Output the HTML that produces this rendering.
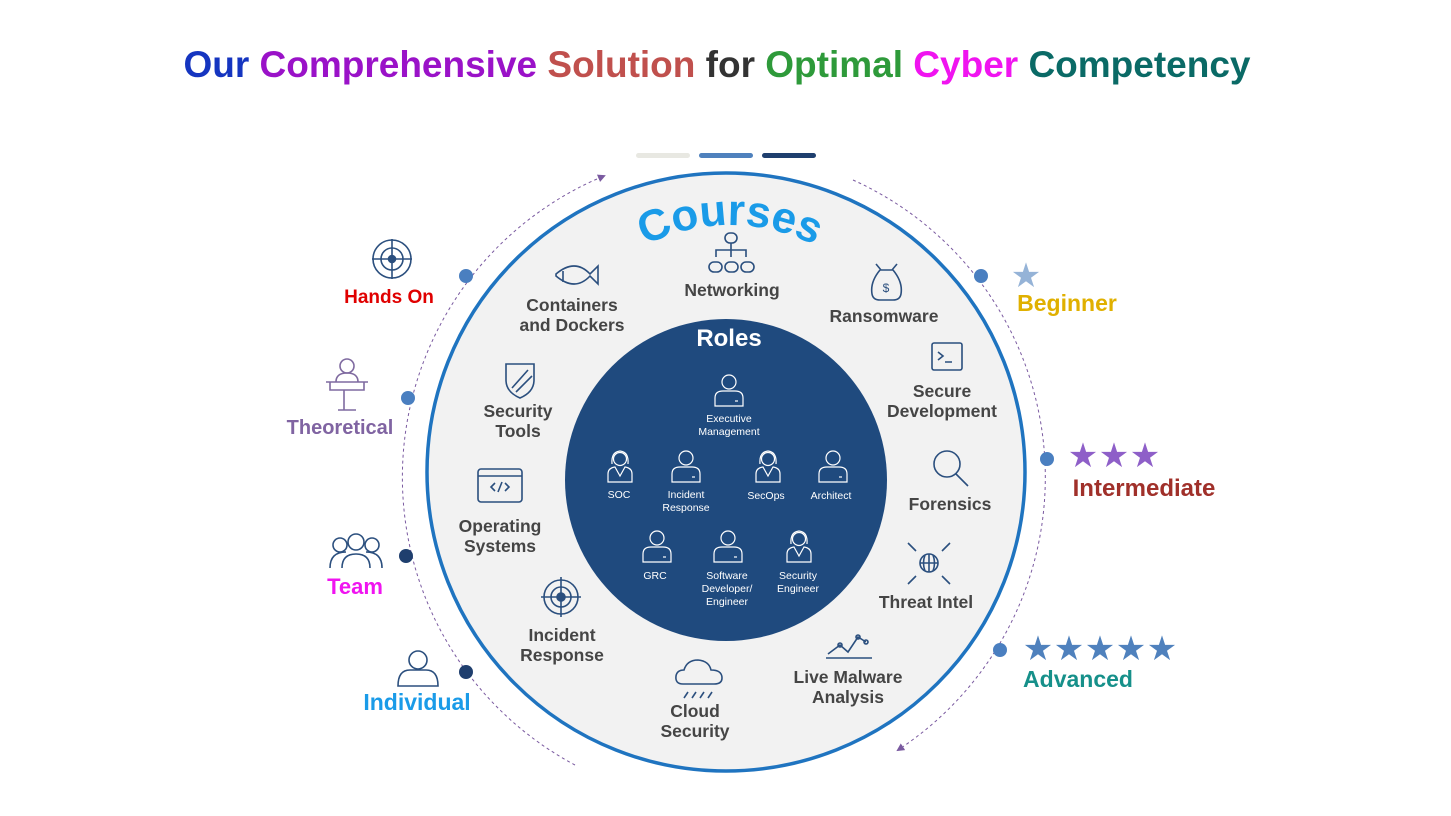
<!DOCTYPE html>
<html><head><meta charset="utf-8"><style>
html,body{margin:0;padding:0;background:#fff;}
svg{display:block;font-family:"Liberation Sans",sans-serif;}
.c{font-size:17.5px;font-weight:bold;fill:#454545;text-anchor:middle;}
.r{font-size:10.5px;fill:#fff;text-anchor:middle;}
.ic{fill:none;stroke:#2b4f7e;stroke-width:1.6;}
.wi{fill:none;stroke:#fff;stroke-width:1.2;}
</style></head><body>
<svg width="1451" height="816" viewBox="0 0 1451 816">
<defs>
<marker id="ar" markerWidth="8" markerHeight="8" refX="6" refY="4" orient="auto"><path d="M0,0 L8,4 L0,8 z" fill="#7a5aa0"/></marker>
<path id="arc" d="M 545 410 A 185 185 0 0 1 915 410"/>
<g id="man"><circle cx="0" cy="-12" r="7"/><path d="M-14,12 L-14,4 Q-14,-3 -6,-3 L6,-3 Q14,-3 14,4 L14,12 Z"/><path d="M6,7 L9,7"/></g>
<g id="wom"><circle cx="0" cy="-11" r="6.5"/><path d="M-8,-6 Q-9,-18 0,-19 Q9,-18 8,-6"/><path d="M-12,12 L-12,4 Q-12,-2 -5,-3 L0,6 L5,-3 Q12,-2 12,4 L12,12 Z"/></g>
</defs>
<text x="717" y="77" text-anchor="middle" font-size="37" font-weight="bold"><tspan fill="#1535c0">Our </tspan><tspan fill="#9a12c8">Comprehensive </tspan><tspan fill="#c0504d">Solution </tspan><tspan fill="#333">for </tspan><tspan fill="#2e9a3a">Optimal </tspan><tspan fill="#f014f0">Cyber </tspan><tspan fill="#0a6a66">Competency</tspan></text>
<rect x="636" y="153" width="54" height="5" rx="2.5" fill="#e8e8e2"/>
<rect x="699" y="153" width="54" height="5" rx="2.5" fill="#4f81bd"/>
<rect x="762" y="153" width="54" height="5" rx="2.5" fill="#1f3f6e"/>
<path d="M 575 765 A 326 326 0 0 1 604 176" fill="none" stroke="#7a5aa0" stroke-width="1" stroke-dasharray="3,3" marker-end="url(#ar)"/>
<path d="M 853 180 A 326 326 0 0 1 898 750" fill="none" stroke="#7a5aa0" stroke-width="1" stroke-dasharray="3,3" marker-end="url(#ar)"/>
<circle cx="726" cy="472" r="299" fill="#f2f2f2" stroke="#1f74c0" stroke-width="3.5"/>
<circle cx="726" cy="480" r="161" fill="#1f4a7e"/>
<text font-size="44" font-weight="bold" fill="#1a9be8"><textPath href="#arc" startOffset="50%" text-anchor="middle">Courses</textPath></text>
<text x="729" y="346" font-size="24" font-weight="bold" fill="#fff" text-anchor="middle">Roles</text>
<g class="wi">
<use href="#man" x="729" y="394"/>
<use href="#wom" x="620" y="470"/>
<use href="#man" x="686" y="470"/>
<use href="#wom" x="768" y="470"/>
<use href="#man" x="833" y="470"/>
<use href="#man" x="657" y="550"/>
<use href="#man" x="728" y="550"/>
<use href="#wom" x="799" y="550"/>
</g>
<text class="r" x="729" y="422">Executive</text><text class="r" x="729" y="435">Management</text>
<text class="r" x="619" y="498">SOC</text>
<text class="r" x="686" y="498">Incident</text><text class="r" x="686" y="511">Response</text>
<text class="r" x="766" y="499">SecOps</text>
<text class="r" x="831" y="499">Architect</text>
<text class="r" x="655" y="579">GRC</text>
<text class="r" x="727" y="579">Software</text><text class="r" x="727" y="592">Developer/</text><text class="r" x="727" y="605">Engineer</text>
<text class="r" x="798" y="579">Security</text><text class="r" x="798" y="592">Engineer</text>
<text class="c" x="732" y="296">Networking</text>
<text class="c" x="572" y="311">Containers</text><text class="c" x="572" y="331">and Dockers</text>
<text class="c" x="884" y="322">Ransomware</text>
<text class="c" x="942" y="397">Secure</text><text class="c" x="942" y="417">Development</text>
<text class="c" x="518" y="417">Security</text><text class="c" x="518" y="437">Tools</text>
<text class="c" x="950" y="510">Forensics</text>
<text class="c" x="500" y="532">Operating</text><text class="c" x="500" y="552">Systems</text>
<text class="c" x="926" y="608">Threat Intel</text>
<text class="c" x="562" y="641">Incident</text><text class="c" x="562" y="661">Response</text>
<text class="c" x="848" y="683">Live Malware</text><text class="c" x="848" y="703">Analysis</text>
<text class="c" x="695" y="717">Cloud</text><text class="c" x="695" y="737">Security</text>
<g class="ic">
<rect x="725" y="233" width="12" height="10" rx="5"/><path d="M731,243 V250 M716,257 V250 H746 V257 M731,250 V257"/>
<rect x="709" y="262" width="13" height="10" rx="5"/><rect x="725" y="262" width="13" height="10" rx="5"/><rect x="741" y="262" width="13" height="10" rx="5"/>
<path d="M556,274 Q575,258 590,274 L598,266 V284 L590,276 Q575,292 556,276 Z M563,271 V282"/>
<path d="M876,264 L881,270 H892 L897,264 M880,270 Q870,282 872,294 Q873,300 880,300 H893 Q900,300 901,294 Q903,282 893,270"/><text x="886" y="292" font-size="12" fill="#2b4f7e" stroke="none" text-anchor="middle">$</text>
<rect x="932" y="343" width="30" height="27" rx="2"/><path d="M938,352 L943,356 L938,360 M945,362 H952"/>
<path d="M506,364 H534 V380 Q534,392 520,398 Q506,392 506,380 Z M512,388 L528,370 M516,392 L532,376"/>
<circle cx="947" cy="464" r="13"/><path d="M956,474 L968,486"/>
<rect x="478" y="469" width="44" height="33" rx="3"/><path d="M478,476 H522 M495,483 L491,487 L495,491 M505,483 L509,487 L505,491 M502,482 L498,492"/>
<circle cx="929" cy="563" r="9"/><path d="M920,563 H938 M929,554 V572 M925,555 Q922,563 925,571 M933,555 Q936,563 933,571 M908,543 L916,551 M950,543 L942,551 M908,584 L916,576 M950,584 L942,576"/>
<circle cx="561" cy="597" r="17"/><circle cx="561" cy="597" r="10"/><circle cx="561" cy="597" r="4" fill="#2b4f7e"/><path d="M561,577 V617 M541,597 H581"/>
<path d="M828,654 L840,645 L848,652 L858,637 L866,642 M826,658 H872"/><circle cx="840" cy="645" r="2"/><circle cx="858" cy="637" r="2"/><circle cx="866" cy="642" r="2"/>
<path d="M683,684 Q675,684 676,676 Q677,670 684,670 Q687,660 698,660 Q709,661 711,670 Q722,670 722,678 Q722,684 714,684 Z M688,692 L684,698 M696,692 L692,698 M704,692 L700,698 M712,692 L708,698"/>
</g>
<g class="ic" stroke="#2b4f7e">
<circle cx="392" cy="259" r="19"/><circle cx="392" cy="259" r="11"/><circle cx="392" cy="259" r="3.5" fill="#2b4f7e"/><path d="M372,259 H412 M392,239 V279"/>
<circle cx="347" cy="366" r="7" stroke="#7f6aa0"/><path d="M326,382 H368 M330,382 V390 H364 V382 M344,390 V410 M338,410 H356 M336,382 Q336,373 347,373 Q358,373 358,382" stroke="#7f6aa0"/>
<circle cx="356" cy="542" r="8"/><circle cx="340" cy="545" r="7"/><circle cx="372" cy="545" r="7"/><path d="M330,568 Q330,552 346,552 M382,568 Q382,552 366,552 M342,568 Q342,554 356,554 Q370,554 370,568"/>
<circle cx="418" cy="660" r="9"/><path d="M398,686 Q398,670 410,670 L426,670 Q438,670 438,686 Z"/>
</g>
<text x="389" y="303" font-size="19" font-weight="bold" fill="#e00000" text-anchor="middle">Hands On</text>
<text x="340" y="434" font-size="20" font-weight="bold" fill="#8064a2" text-anchor="middle">Theoretical</text>
<text x="355" y="594" font-size="22" font-weight="bold" fill="#f014f0" text-anchor="middle">Team</text>
<text x="417" y="710" font-size="23" font-weight="bold" fill="#1a9be8" text-anchor="middle">Individual</text>
<circle cx="466" cy="276" r="7" fill="#4a7fc0"/>
<circle cx="408" cy="398" r="7" fill="#4a7fc0"/>
<circle cx="406" cy="556" r="7" fill="#1f3f6e"/>
<circle cx="466" cy="672" r="7" fill="#1f3f6e"/>
<circle cx="981" cy="276" r="7" fill="#4a7fc0"/>
<circle cx="1047" cy="459" r="7" fill="#4a7fc0"/>
<circle cx="1000" cy="650" r="7" fill="#4a7fc0"/>
<g font-size="34" text-anchor="middle">
<text x="1026" y="287" fill="#95b3d7">★</text>
<text x="1083" y="467" fill="#8e5fc8">★</text><text x="1114" y="467" fill="#8e5fc8">★</text><text x="1145" y="467" fill="#8e5fc8">★</text>
<text x="1038" y="660" fill="#4f81bd">★</text><text x="1069" y="660" fill="#4f81bd">★</text><text x="1100" y="660" fill="#4f81bd">★</text><text x="1131" y="660" fill="#4f81bd">★</text><text x="1162" y="660" fill="#4f81bd">★</text>
</g>
<text x="1067" y="311" font-size="23" font-weight="bold" fill="#e0b000" text-anchor="middle">Beginner</text>
<text x="1144" y="496" font-size="24" font-weight="bold" fill="#a0302a" text-anchor="middle">Intermediate</text>
<text x="1078" y="687" font-size="23" font-weight="bold" fill="#16908a" text-anchor="middle">Advanced</text>
</svg>
</body></html>
